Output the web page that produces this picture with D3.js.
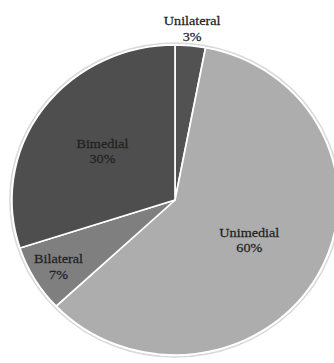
<!DOCTYPE html>
<html>
<head>
<meta charset="utf-8">
<script src="https://cdn.jsdelivr.net/npm/d3@7/dist/d3.min.js"></script>
<style>
  html, body { margin: 0; padding: 0; background: #fff; }
  svg { display: block; }
</style>
</head>
<body>
<svg id="chart" width="334" height="363"></svg>
<script>
// Data
const categories = ["Unilateral", "Unimedial", "Bilateral", "Bimedial"];
const values = [3, 60, 7, 30];
const percentLabels = ["3%", "60%", "7%", "30%"];

// Styling (kept separate from data)
const colors = ["#525252", "#adadad", "#7f7f7f", "#4e4e4e"];
const labelRadiusFrac = [1.12, 0.52, 0.83, 0.55];

const W = 334, H = 363;
const cx = 175, cy = 200, R = 155, sx = 1.052;

const svg = d3.select("#chart");
const g = svg.append("g").attr("transform", `translate(${cx},${cy}) scale(${sx},1)`);

const data = categories.map((c, i) => ({ name: c, value: values[i], label: percentLabels[i], i }));

const pie = d3.pie().value(d => d.value).sort(null);
const arcs = pie(data);
const arc = d3.arc().innerRadius(0).outerRadius(R);

// soft outer halo
g.append("circle").attr("r", R + 2).attr("fill", "none").attr("stroke", "#d9d9d9").attr("stroke-width", 1.5);

g.selectAll("path.slice")
  .data(arcs)
  .enter().append("path")
  .attr("class", "slice")
  .attr("d", arc)
  .attr("fill", d => colors[d.data.i])
  .attr("stroke", "#ffffff")
  .attr("stroke-width", 1.6)
  .attr("stroke-linejoin", "round");

const labels = g.selectAll("g.lbl")
  .data(arcs)
  .enter().append("g")
  .attr("class", "lbl")
  .attr("transform", d => {
    const r = R * labelRadiusFrac[d.data.i];
    const a = d3.arc().innerRadius(r).outerRadius(r);
    const [x, y] = a.centroid(d);
    return `translate(${x},${y})`;
  });

labels.append("text")
  .attr("text-anchor", "middle")
  .attr("font-family", "'Liberation Serif', 'Times New Roman', serif")
  .attr("font-size", 13.5)
  .attr("fill", "#222")
  .attr("stroke", "#222")
  .attr("stroke-width", 0.25)
  .attr("y", -2)
  .text(d => d.data.name);

labels.append("text")
  .attr("text-anchor", "middle")
  .attr("font-family", "'Liberation Serif', 'Times New Roman', serif")
  .attr("font-size", 13.5)
  .attr("fill", "#222")
  .attr("stroke", "#222")
  .attr("stroke-width", 0.25)
  .attr("y", 13.5)
  .text(d => d.data.label);
</script>
</body>
</html>
